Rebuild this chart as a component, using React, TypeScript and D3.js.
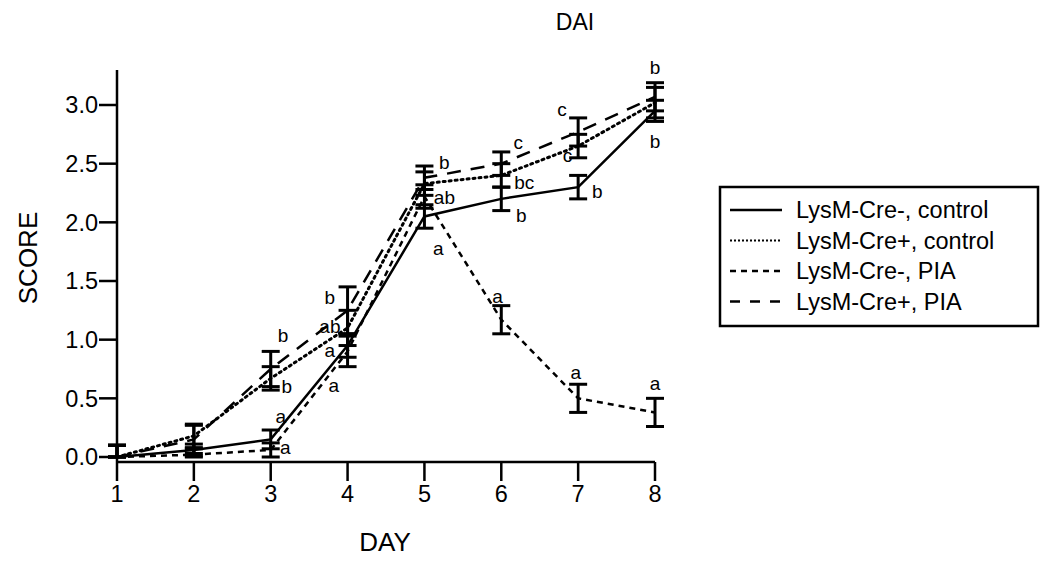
import React from "react";
import * as d3 from "d3";

const days = [1, 2, 3, 4, 5, 6, 7, 8];
const seriesNames = ["LysM-Cre-, control", "LysM-Cre+, control", "LysM-Cre-, PIA", "LysM-Cre+, PIA"];
const creNegControl = [0, 0.06, 0.15, 0.95, 2.05, 2.2, 2.3, 2.95];
const crePosControl = [0, 0.18, 0.67, 1.1, 2.33, 2.4, 2.65, 3.02];
const creNegPIA = [0, 0.02, 0.06, 0.9, 2.22, 1.17, 0.5, 0.38];
const crePosPIA = [0, 0.15, 0.75, 1.25, 2.38, 2.5, 2.77, 3.07];
const creNegControlErr = [0.1, 0.05, 0.08, 0.1, 0.1, 0.1, 0.1, 0.09];
const crePosControlErr = [0.1, 0.1, 0.1, 0.15, 0.1, 0.1, 0.1, 0.13];
const creNegPIAErr = [0.1, 0.05, 0.06, 0.13, 0.1, 0.12, 0.12, 0.12];
const crePosPIAErr = [0.1, 0.12, 0.15, 0.2, 0.1, 0.1, 0.12, 0.12];
const yTicks = [0, 0.5, 1.0, 1.5, 2.0, 2.5, 3.0];
const letterDay = [3.16, 3.21, 3.13, 3.19, 3.77, 3.77, 3.77, 3.82, 5.26, 5.26, 5.18, 6.22, 6.3, 6.26, 5.95, 6.79, 6.86, 7.25, 6.97, 8.0, 8.0, 8.0];
const letterScore = [1.04, 0.6, 0.35, 0.08, 1.36, 1.11, 0.91, 0.61, 2.51, 2.21, 1.78, 2.68, 2.34, 2.06, 1.37, 2.96, 2.57, 2.26, 0.72, 3.32, 2.69, 0.63];
const letterText = ["b", "b", "a", "a", "b", "ab", "a", "a", "b", "ab", "a", "c", "bc", "b", "a", "c", "c", "b", "a", "b", "b", "a"];

const values = [creNegControl, crePosControl, creNegPIA, crePosPIA];
const errors = [creNegControlErr, crePosControlErr, creNegPIAErr, crePosPIAErr];
const dashes = ["none", "2,4", "6,5", "14,10"];
const caps = ["butt", "round", "butt", "butt"];

export default function App() {
  const x = d3.scaleLinear().domain([1, 8]).range([117, 655]);
  const y = d3.scaleLinear().domain([0, 3]).range([457, 105]);
  const font = "'Liberation Sans', Arial, sans-serif";
  const line = d3
    .line<number>()
    .x((_, i) => x(days[i]))
    .y((d) => y(d));
  const capW = 9;
  const legendX = 720;
  const legendY = 182;
  return (
    <svg
      width={1050}
      height={561}
      style={{ position: "absolute", left: 0, top: 0, background: "#fff" }}
      fontFamily={font}
    >
      <rect x={0} y={0} width={1050} height={561} fill="#fff" />
      <text x={575} y={30} fontSize={23} textAnchor="middle">DAI</text>
      {/* axes */}
      <line x1={x(1)} x2={x(1)} y1={70} y2={462} stroke="#000" strokeWidth={2.5} />
      <line x1={x(1)} x2={x(8)} y1={462} y2={462} stroke="#000" strokeWidth={2.5} />
      {yTicks.map((t) => (
        <g key={"y" + t}>
          <line x1={x(1) - 18} x2={x(1)} y1={y(t)} y2={y(t)} stroke="#000" strokeWidth={2.5} />
          <text x={x(1) - 19} y={y(t)} dy="0.36em" fontSize={23.5} textAnchor="end">
            {t.toFixed(1)}
          </text>
        </g>
      ))}
      {days.map((d) => (
        <g key={"x" + d}>
          <line x1={x(d)} x2={x(d)} y1={462} y2={481} stroke="#000" strokeWidth={2.5} />
          <text x={x(d)} y={502} fontSize={23.5} textAnchor="middle">{d}</text>
        </g>
      ))}
      <text x={385} y={551} fontSize={26} textAnchor="middle">DAY</text>
      <text transform={`translate(37,258) rotate(-90)`} fontSize={26} textAnchor="middle">SCORE</text>
      {/* series */}
      {values.map((vals, s) => (
        <path
          key={"s" + s}
          d={line(vals) || ""}
          fill="none"
          stroke="#000"
          strokeWidth={s === 1 ? 3 : 2.5}
          strokeDasharray={dashes[s]}
          strokeLinecap={caps[s] as any}
        />
      ))}
      {values.map((vals, s) =>
        vals.map((v, i) => {
          const e = errors[s][i];
          const cx = x(days[i]);
          const lo = Math.max(0, v - e);
          return (
            <g key={`e${s}-${i}`} stroke="#000" strokeWidth={3}>
              <line x1={cx} x2={cx} y1={y(v + e)} y2={y(lo)} />
              <line x1={cx - capW} x2={cx + capW} y1={y(v + e)} y2={y(v + e)} />
              <line x1={cx - capW} x2={cx + capW} y1={y(lo)} y2={y(lo)} />
            </g>
          );
        })
      )}
      {letterText.map((t, i) => (
        <text key={"l" + i} x={x(letterDay[i])} y={y(letterScore[i])} dy="0.35em" fontSize={19} textAnchor="middle">
          {t}
        </text>
      ))}
      {/* legend */}
      <rect x={legendX} y={legendY + 5} width={318} height={139} fill="#fff" stroke="#000" strokeWidth={2.5} />
      {seriesNames.map((n, i) => {
        const ly = legendY + 28 + i * 30.5;
        return (
          <g key={"lg" + i}>
            <line
              x1={legendX + 10}
              x2={legendX + 62}
              y1={ly}
              y2={ly}
              stroke="#000"
              strokeWidth={i === 1 ? 2 : 2.5}
              strokeDasharray={i === 1 ? "2,2" : i === 2 ? "6,5" : i === 3 ? "10,10" : "none"}
            />
            <text x={legendX + 76} y={ly} dy="0.36em" fontSize={23.5}>{n}</text>
          </g>
        );
      })}
    </svg>
  );
}
